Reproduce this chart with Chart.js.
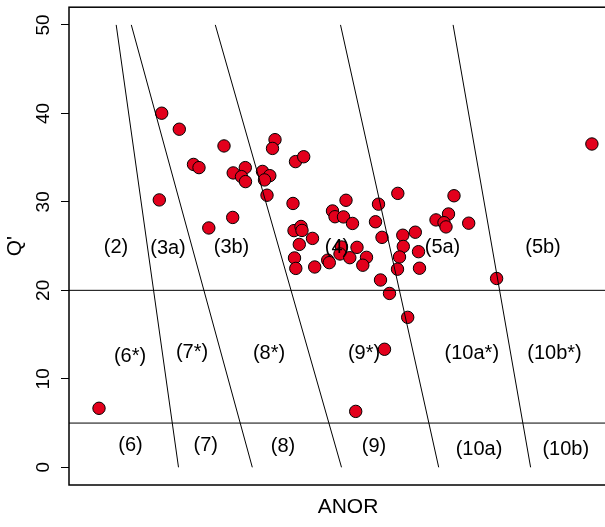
<!DOCTYPE html>
<html>
<head>
<meta charset="utf-8">
<script src="https://cdn.jsdelivr.net/npm/chart.js@4/dist/chart.umd.min.js"></script>
<style>
  html, body { margin: 0; padding: 0; background: #fff; overflow: hidden; }
  #wrap { width: 605px; height: 527px; overflow: hidden; }
  canvas { display: block; }
</style>
</head>
<body>
<div id="wrap"><canvas id="chart" width="640" height="527"></canvas></div>
<script>
// samples: ANOR (arbitrary units, no tick labels in the original) vs Q'
var anor = [6.0, 18.54, 22.06, 18.06, 24.9, 26.0, 27.96, 31.0, 32.74, 32.84,
    35.26, 34.5, 35.3, 41.2, 40.7, 38.7, 40.16, 39.1, 39.6, 45.3,
    46.94, 44.8, 55.4, 52.7, 53.2, 54.9, 56.7, 45.0, 46.4, 46.6,
    48.7, 46.06, 45.1, 45.36, 49.14, 51.74, 52.06, 54.5, 54.2, 56.16,
    57.6, 59.5, 58.76, 61.9, 65.76, 61.3, 62.6, 66.76, 69.26, 66.86,
    69.9, 66.1, 65.7, 70.1, 62.3, 64.1, 67.74, 63.1, 57.34, 77.0,
    75.9, 73.4, 75.0, 75.4, 79.94, 85.52, 104.58];
var qprime = [6.67, 40.02, 38.21, 30.22, 34.23, 33.87, 27.05, 36.32, 28.24, 33.27,
    33.87, 32.85, 32.29, 37.03, 36.04, 33.44, 32.96, 32.48, 30.75, 34.55,
    35.10, 29.82, 30.18, 28.97, 28.32, 28.30, 27.56, 26.75, 27.22, 26.77,
    25.87, 25.19, 23.66, 22.48, 22.64, 23.41, 23.13, 24.90, 24.11, 23.69,
    24.86, 23.73, 22.84, 29.74, 30.96, 27.75, 25.99, 26.23, 26.57, 24.96,
    24.37, 23.77, 22.39, 22.50, 21.17, 19.65, 16.95, 13.34, 6.32, 30.69,
    28.63, 27.96, 27.65, 27.17, 27.59, 21.34, 36.54];

// sloping class boundaries: ANOR where each line meets Q'=50 and Q'=0
var boundaryTop = [9.44, 12.46, 29.26, 54.3, 76.82];
var boundaryBottom = [21.9, 36.66, 54.5, 73.94, 92.32];
var boundaryQTop = 50;
var boundaryQBottom = 0;

// horizontal class boundaries
var levels = [20, 5];

var xMin = 0, xMax = 111.6;
var yMin = -2, yMax = 52;
var yTicks = [0, 10, 20, 30, 40, 50];

// class labels
var classNames = ["(2)", "(3a)", "(3b)", "(4)", "(5a)", "(5b)",
    "(6*)", "(7*)", "(8*)", "(9*)", "(10a*)", "(10b*)",
    "(6)", "(7)", "(8)", "(9)", "(10a)", "(10b)"];
var classX = [9.4, 19.8, 32.5, 53.6, 74.7, 94.8,
    12.2, 24.6, 40.0, 59.0, 80.56, 97.1,
    12.3, 27.36, 42.8, 61.0, 82.0, 99.36];
var classY = [24.9, 24.68, 24.85, 24.79, 24.9, 24.9,
    12.58, 13.03, 12.86, 12.86, 12.86, 12.86,
    2.41, 2.41, 2.32, 2.32, 1.96, 1.96];

var FONT = "'Liberation Sans', Arial, sans-serif";

var points = anor.map(function (x, i) { return {x: x, y: qprime[i]}; });

var datasets = [];
for (var i = 0; i < boundaryTop.length; i++) {
    datasets.push({
        data: [{x: boundaryTop[i], y: boundaryQTop}, {x: boundaryBottom[i], y: boundaryQBottom}],
        showLine: true, borderColor: "#000", borderWidth: 1, pointRadius: 0, order: 0
    });
}
for (var j = 0; j < levels.length; j++) {
    datasets.push({
        data: [{x: xMin, y: levels[j]}, {x: xMax, y: levels[j]}],
        showLine: true, borderColor: "#000", borderWidth: 1, pointRadius: 0, order: 0
    });
}
datasets.push({
    data: points,
    backgroundColor: "#E3001C",
    borderColor: "#000",
    borderWidth: 1,
    pointRadius: 6.2,
    order: 1
});

// box round the plot and class labels
var boxAndLabels = {
    id: "boxAndLabels",
    afterDatasetsDraw: function (chart) {
        var ctx = chart.ctx;
        var xs = chart.scales.x, ys = chart.scales.y;
        ctx.save();
        ctx.fillStyle = "#000";
        ctx.font = "20px " + FONT;
        ctx.textAlign = "center";
        ctx.textBaseline = "middle";
        for (var k = 0; k < classNames.length; k++) {
            ctx.fillText(classNames[k], xs.getPixelForValue(classX[k]), ys.getPixelForValue(classY[k]));
        }
        var a = chart.chartArea;
        ctx.strokeStyle = "#000";
        ctx.lineWidth = 1.5;
        ctx.strokeRect(a.left, a.top, a.right - a.left, a.bottom - a.top);
        ctx.restore();
    }
};

new Chart(document.getElementById("chart"), {
    type: "scatter",
    data: {datasets: datasets},
    options: {
        responsive: false,
        animation: false,
        devicePixelRatio: 1,
        layout: {padding: {top: 7, right: 13, left: 0, bottom: 0}},
        plugins: {legend: {display: false}, tooltip: {enabled: false}},
        scales: {
            x: {
                type: "linear",
                min: xMin,
                max: xMax,
                grid: {display: false},
                border: {display: false},
                ticks: {display: false},
                title: {
                    display: true,
                    text: "ANOR",
                    color: "#000",
                    font: {family: FONT, size: 21},
                    padding: {top: 0, bottom: 7}
                },
                afterFit: function (s) {
                    s.height = 42;
                    s.paddingLeft = 0; s.paddingRight = 0;
                }
            },
            y: {
                type: "linear",
                min: yMin,
                max: yMax,
                afterBuildTicks: function (s) {
                    s.ticks = yTicks.map(function (v) { return {value: v}; });
                },
                grid: {
                    drawOnChartArea: false,
                    drawTicks: true,
                    tickLength: 8,
                    tickWidth: 1,
                    color: "#000"
                },
                border: {display: false},
                ticks: {
                    color: "#000",
                    font: {family: FONT, size: 19},
                    minRotation: 90,
                    maxRotation: 90,
                    crossAlign: "center",
                    padding: 7
                },
                title: {
                    display: true,
                    text: "Q'",
                    color: "#000",
                    font: {family: FONT, size: 21},
                    padding: {top: 3, bottom: 0}
                },
                afterFit: function (s) {
                    s.width = 69;
                    s.paddingTop = 0; s.paddingBottom = 0;
                }
            }
        }
    },
    plugins: [boxAndLabels]
});
</script>
</body>
</html>
